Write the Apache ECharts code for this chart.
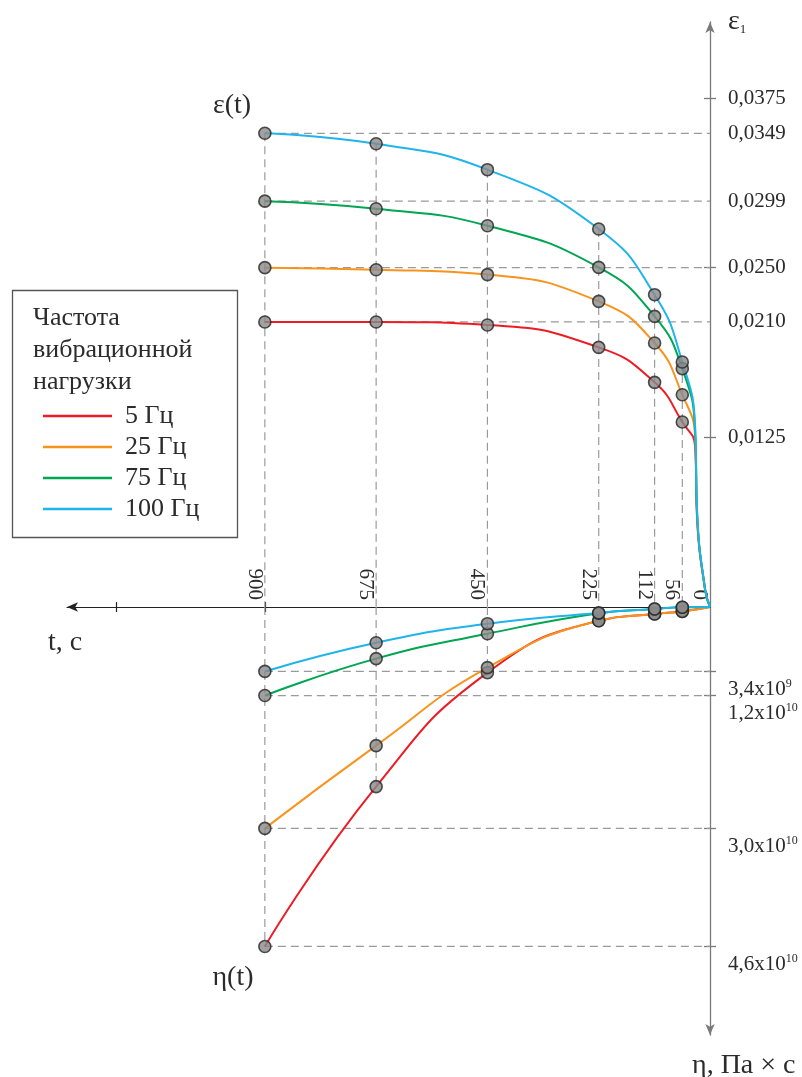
<!DOCTYPE html>
<html><head><meta charset="utf-8">
<script src="https://cdn.jsdelivr.net/npm/echarts@6/dist/echarts.min.js"></script>
<style>html,body{margin:0;padding:0;background:#fff}#c{width:802px;height:1077px}</style>
</head><body><div id="c"></div>
<script>
const FONT = '"Liberation Serif", "Times New Roman", serif';
const TXT = '#2b2b2b';
// time, s (measurement points)
const times = [900, 675, 450, 225, 112, 56, 0];
const freqNames = ['5 Гц', '25 Гц', '75 Гц', '100 Гц'];
const lineColors = ['#ed1c24', '#f7941d', '#00a651', '#1fb4ea'];
// strain eps(t)
const eps5   = [0.0210, 0.0210, 0.02078, 0.01913, 0.01655, 0.01363, 0];
const eps25  = [0.0250, 0.02485, 0.02449, 0.02252, 0.01945, 0.01564, 0];
const eps75  = [0.0299, 0.02934, 0.02809, 0.02502, 0.02141, 0.01756, 0];
const eps100 = [0.0349, 0.03413, 0.03222, 0.02785, 0.02301, 0.01805, 0];
// extra readings of the curves near t -> 0 (no markers)
const tailTimes = [30, 26, 10];
const epsTail5   = [0.0118, 0.0064, 0.0013];
const epsTail25  = [0.0125, 0.0066, 0.0013];
const epsTail75  = [0.0129, 0.0068, 0.0013];
const epsTail100 = [0.0133, 0.0070, 0.0013];
// viscosity eta(t), units of 1e10 Pa*s (as positioned on the drawn axis)
const eta5   = [4.6, 2.434, 0.890, 0.186, 0.095, 0.06, 0];
const eta25  = [3.0, 1.879, 0.822, 0.186, 0.095, 0.06, 0];
const eta75  = [1.2, 0.700, 0.362, 0.085, 0.027, 0.003, 0];
const eta100 = [0.873, 0.484, 0.226, 0.080, 0.027, 0.003, 0];
// ticks / labels
const tTicks = [1200, 900];
const tLabels = [900, 675, 450, 225, 112, 56, 0];
const epsTicks = [0.0125, 0.0250, 0.0375];
const epsLabels = [0.0125, 0.0210, 0.0250, 0.0299, 0.0349, 0.0375];
const etaTicks = [0.873, 1.2, 3.0, 4.6];
const etaLabelBase = ['3,4x10', '1,2x10', '3,0x10', '4,6x10'];
const etaLabelExp = ['9', '10', '10', '10'];

const epsAll = [eps5, eps25, eps75, eps100];
const epsTails = [epsTail5, epsTail25, epsTail75, epsTail100];
const etaAll = [eta5, eta25, eta75, eta100];

const chart = echarts.init(document.getElementById('c'), null, {renderer: 'canvas'});

const dashStyle = {color: '#9a9a9a', width: 1.2, type: [8, 5]};
const series = [];
function dashSeg(gi, a, b) {
  series.push({type: 'line', xAxisIndex: gi, yAxisIndex: gi === 0 ? 0 : 2, data: [a, b],
    symbol: 'none', silent: true, z: 1, lineStyle: dashStyle, animation: false});
}
// vertical dashed guides at every measured time
times.forEach((t, i) => {
  if (t === 0) return;
  const me = Math.max(...epsAll.map(a => a[i]));
  const mh = Math.max(...etaAll.map(a => a[i]));
  dashSeg(0, [t, me], [t, 0]);
  dashSeg(1, [t, 0], [t, mh]);
});
// horizontal dashed guides from t=900 points to the axis
epsAll.forEach(a => dashSeg(0, [times[0], a[0]], [0, a[0]]));
etaAll.forEach(a => dashSeg(1, [times[0], a[0]], [0, a[0]]));

// curves
freqNames.forEach((name, k) => {
  const pts = times.map((t, i) => [t, epsAll[k][i]])
    .concat(tailTimes.map((t, i) => [t, epsTails[k][i]]))
    .sort((p, q) => q[0] - p[0]);
  series.push({name, type: 'line', xAxisIndex: 0, yAxisIndex: 0, data: pts, smooth: 0.5,
    symbol: 'none', z: 2, color: lineColors[k],
    lineStyle: {width: 2, color: lineColors[k]}, animation: false});
  series.push({name, type: 'line', xAxisIndex: 1, yAxisIndex: 2,
    data: times.map((t, i) => [t, etaAll[k][i]]), smooth: 0.5,
    symbol: 'none', z: 2, color: lineColors[k], lineStyle: {width: 2, color: lineColors[k]}, animation: false});
});
// measured points (markers)
const markerStyle = {color: '#8a8a8a', borderColor: '#262626', borderWidth: 1.6};
series.push({type: 'scatter', xAxisIndex: 0, yAxisIndex: 0, symbolSize: 12, z: 5, silent: true,
  itemStyle: markerStyle, animation: false,
  data: [].concat(...epsAll.map(a => times.map((t, i) => [t, a[i]]).filter(p => p[0] !== 0)))});
series.push({type: 'scatter', xAxisIndex: 1, yAxisIndex: 2, symbolSize: 12, z: 5, silent: true,
  itemStyle: markerStyle, animation: false,
  data: [].concat(...etaAll.map(a => times.map((t, i) => [t, a[i]]).filter(p => p[0] !== 0)))});

const grids = [
  {left: 67, right: 92, top: 22, bottom: 470, outerBoundsMode: 'none', containLabel: false},
  {left: 67, right: 92, top: 607, bottom: 42, outerBoundsMode: 'none', containLabel: false}
];
const xMax = 1300;
const xAxes = [
  {gridIndex: 0, type: 'value', min: 0, max: xMax, inverse: true, position: 'bottom',
   axisLine: {show: true, onZero: false, symbol: ['arrow', 'none'], symbolSize: [7, 11], lineStyle: {color: '#222', width: 1.2}},
   axisTick: {show: true, inside: true, length: 5, customValues: tTicks, lineStyle: {color: '#222', width: 1.2}},
   axisLabel: {show: true, inside: true, rotate: -90, margin: 7, customValues: tLabels, verticalAlign: 'top',
     fontSize: 21, fontFamily: FONT, color: TXT, formatter: v => String(v)},
   splitLine: {show: false}},
  {gridIndex: 1, type: 'value', min: 0, max: xMax, inverse: true, position: 'top',
   axisLine: {show: false, onZero: false},
   axisTick: {show: true, inside: true, length: 5, customValues: tTicks, lineStyle: {color: '#222', width: 1.2}},
   axisLabel: {show: false}, splitLine: {show: false}}
];
const axisGray = '#7a7a7a';
const yAxes = [
  {gridIndex: 0, type: 'value', min: 0, max: 0.0431, position: 'right',
   axisLine: {show: true, onZero: false, symbol: ['none', 'arrow'], symbolSize: [7, 11], lineStyle: {color: axisGray, width: 1.3}},
   axisTick: {show: true, length: 6, customValues: epsTicks, lineStyle: {color: axisGray, width: 1.3}},
   axisLabel: {show: true, margin: 18, customValues: epsLabels, fontSize: 21, fontFamily: FONT, color: TXT,
     formatter: v => v.toFixed(4).replace('.', ',')},
   splitLine: {show: false}},
  {gridIndex: 0, type: 'value', min: 0, max: 0.0431, position: 'right',
   axisLine: {show: false}, axisTick: {show: true, inside: true, length: 6, customValues: epsTicks, lineStyle: {color: axisGray, width: 1.3}},
   axisLabel: {show: false}, splitLine: {show: false}},
  {gridIndex: 1, type: 'value', min: 0, max: 5.8, inverse: true, position: 'right',
   axisLine: {show: true, onZero: false, symbol: ['arrow', 'none'], symbolSize: [7, 11], lineStyle: {color: axisGray, width: 1.3}},
   axisTick: {show: true, length: 6, customValues: etaTicks, lineStyle: {color: axisGray, width: 1.3}},
   axisLabel: {show: true, margin: 18, customValues: etaTicks, verticalAlign: 'top', padding: [6, 0, 0, 0],
     formatter: v => {
       let k = 0, best = 1e9;
       etaTicks.forEach((e, i) => { if (Math.abs(e - v) < best) { best = Math.abs(e - v); k = i; } });
       return '{n|' + etaLabelBase[k] + '}{s|' + etaLabelExp[k] + '}';
     },
     rich: {n: {fontSize: 21, fontFamily: FONT, color: TXT, lineHeight: 24},
            s: {fontSize: 12, fontFamily: FONT, color: TXT, verticalAlign: 'top'}}},
   splitLine: {show: false}},
  {gridIndex: 1, type: 'value', min: 0, max: 5.8, inverse: true, position: 'right',
   axisLine: {show: false}, axisTick: {show: true, inside: true, length: 6, customValues: etaTicks, lineStyle: {color: axisGray, width: 1.3}},
   axisLabel: {show: false}, splitLine: {show: false}}
];

const option = {
  backgroundColor: '#fff',
  animation: false,
  grid: grids,
  xAxis: xAxes,
  yAxis: yAxes,
  legend: {
    data: freqNames, orient: 'vertical', left: 38, top: 398, itemWidth: 69, itemHeight: 2.5,
    itemGap: 5, icon: 'rect', selectedMode: false,
    textStyle: {fontSize: 26, fontFamily: FONT, color: TXT, lineHeight: 24, padding: [0, 0, 0, 8]}
  },
  graphic: [
    {type: 'rect', shape: {x: 12.5, y: 290.5, width: 225, height: 247}, style: {fill: 'none', stroke: '#555', lineWidth: 1.3}, z: 10},
    {type: 'text', left: 33, top: 302, z: 10, style: {text: 'Частота\nвибрационной\nнагрузки', fontSize: 26, lineHeight: 32, fontFamily: FONT, fill: TXT}},
    {type: 'text', x: 232, y: 106, z: 10, style: {text: 'ε(t)', fontSize: 28, fontFamily: FONT, fill: TXT, align: 'center', verticalAlign: 'middle'}},
    {type: 'text', x: 233, y: 978, z: 10, style: {text: 'η(t)', fontSize: 28, fontFamily: FONT, fill: TXT, align: 'center', verticalAlign: 'middle'}},
    {type: 'text', x: 48, y: 643, z: 10, style: {text: 't, c', fontSize: 28, fontFamily: FONT, fill: TXT, align: 'left', verticalAlign: 'middle'}},
    {type: 'text', x: 728, y: 22, z: 10, style: {text: '{e|ε}{i|1}', fontFamily: FONT, fill: TXT, align: 'left', verticalAlign: 'middle',
      rich: {e: {fontSize: 28, fontFamily: FONT, fill: TXT}, i: {fontSize: 13, fontFamily: FONT, fill: TXT, verticalAlign: 'bottom'}}}},
    {type: 'text', x: 692, y: 1066, z: 10, style: {text: 'η, Па × с', fontSize: 28, fontFamily: FONT, fill: TXT, align: 'left', verticalAlign: 'middle'}}
  ],
  series
};
chart.setOption(option);
</script>
</body></html>
